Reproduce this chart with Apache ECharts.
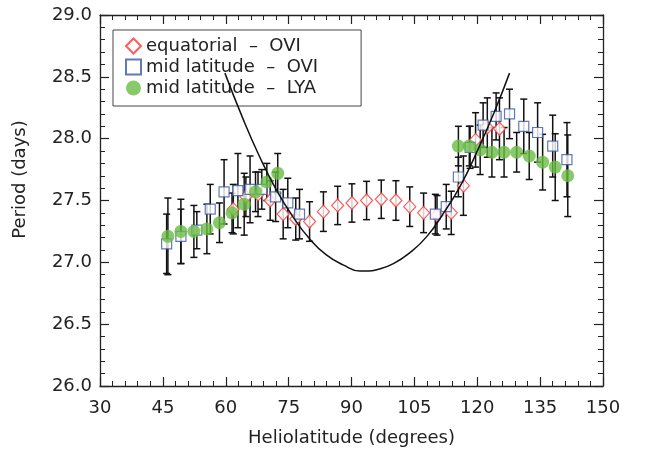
<!DOCTYPE html>
<html>
<head>
<meta charset="utf-8">
<script src="https://cdn.jsdelivr.net/npm/echarts@6/dist/echarts.min.js"></script>
<style>
  html, body { margin: 0; padding: 0; background: #fff; }
  #chart { width: 655px; height: 455px; }
</style>
</head>
<body>
<div id="chart"></div>
<script>
// equatorial - OVI (red diamonds)
const eqX = [61.8, 64.8, 67.7, 70.6, 73.7, 76.7, 80.0, 83.3, 86.7, 90.1, 93.6, 97.1, 100.6, 103.9, 107.2, 110.4, 113.8, 116.7, 119.6, 122.4, 125.3];
const eqY = [27.43, 27.53, 27.55, 27.50, 27.39, 27.35, 27.33, 27.41, 27.46, 27.48, 27.50, 27.51, 27.50, 27.45, 27.40, 27.38, 27.40, 27.62, 27.99, 28.09, 28.08];
const eqErr = [0.20, 0.16, 0.18, 0.16, 0.20, 0.17, 0.16, 0.16, 0.155, 0.155, 0.155, 0.155, 0.16, 0.16, 0.16, 0.16, 0.175, 0.24, 0.22, 0.24, 0.25];

// mid latitude - OVI (blue squares)
const oviX = [45.9, 49.3, 53.1, 56.3, 59.6, 62.9, 65.8, 68.6, 71.9, 74.8, 77.6, 110.0, 112.6, 115.5, 118.3, 121.4, 124.5, 127.7, 131.1, 134.4, 138.0, 141.4];
const oviY = [27.15, 27.21, 27.26, 27.43, 27.57, 27.58, 27.59, 27.59, 27.53, 27.48, 27.39, 27.39, 27.45, 27.69, 27.93, 28.11, 28.18, 28.20, 28.10, 28.05, 27.94, 27.83];
const oviErr = [0.24, 0.22, 0.15, 0.20, 0.26, 0.30, 0.27, 0.16, 0.20, 0.20, 0.20, 0.16, 0.18, 0.16, 0.17, 0.18, 0.19, 0.20, 0.22, 0.24, 0.25, 0.30];

// mid latitude - LYA (green dots)
const lyaX = [46.2, 49.3, 52.4, 55.5, 58.5, 61.5, 64.4, 67.1, 69.8, 72.4, 115.5, 118.1, 120.7, 123.5, 126.4, 129.4, 132.4, 135.6, 138.6, 141.6];
const lyaY = [27.21, 27.25, 27.25, 27.27, 27.32, 27.40, 27.47, 27.57, 27.65, 27.72, 27.94, 27.94, 27.91, 27.89, 27.89, 27.89, 27.86, 27.81, 27.77, 27.70];
const lyaErr = [0.31, 0.26, 0.21, 0.20, 0.16, 0.16, 0.25, 0.16, 0.15, 0.16, 0.16, 0.16, 0.20, 0.20, 0.20, 0.16, 0.19, 0.225, 0.27, 0.33];

// fitted curve
const fitX = [59.8, 64, 68, 72, 76, 80, 84, 88, 92, 94, 96, 100, 104, 108, 112, 116, 120, 124, 127.7];
const fitY = [28.53, 28.17, 27.86, 27.59, 27.37, 27.19, 27.06, 26.98, 26.93, 26.93, 26.94, 26.99, 27.08, 27.21, 27.40, 27.62, 27.90, 28.21, 28.53];

const xTicks = [30, 150, 15];
const yTicks = [26, 29, 0.5];

const names = ["equatorial  \u2013  OVI", "mid latitude  \u2013  OVI", "mid latitude  \u2013  LYA"];

const red = "#ff3333";
const blue = "#3b56a8";
const green = "#6abb45";
const font = "DejaVu Sans";

function pts(xs, ys) {
  return xs.map((x, i) => [x, ys[i]]);
}

// error bars from all three sets: [x, low, high]
const bars = [];
[[eqX, eqY, eqErr], [oviX, oviY, oviErr], [lyaX, lyaY, lyaErr]].forEach(set => {
  set[0].forEach((x, i) => {
    bars.push([x, set[1][i] - set[2][i], set[1][i] + set[2][i]]);
  });
});

function renderBar(params, api) {
  const top = api.coord([api.value(0), api.value(2)]);
  const bot = api.coord([api.value(0), api.value(1)]);
  const w = 3.5;
  const st = { stroke: "#111", lineWidth: 1.5 };
  return {
    type: "group",
    children: [
      { type: "line", shape: { x1: top[0], y1: top[1], x2: bot[0], y2: bot[1] }, style: st },
      { type: "line", shape: { x1: top[0] - w, y1: top[1], x2: top[0] + w, y2: top[1] }, style: st },
      { type: "line", shape: { x1: bot[0] - w, y1: bot[1], x2: bot[0] + w, y2: bot[1] }, style: st }
    ]
  };
}

const axisLine = { show: true, onZero: false, lineStyle: { color: "#222", width: 1.3 } };
const tick = { show: true, inside: true, length: 9, lineStyle: { color: "#222", width: 1.2 } };
const minor = { show: true, splitNumber: 5, length: 5, lineStyle: { color: "#222", width: 1 } };
const labelStyle = { fontFamily: font, fontSize: 18, color: "#222" };

const myChart = echarts.init(document.getElementById("chart"));
myChart.setOption({
  animation: false,
  backgroundColor: "#fff",
  grid: { left: 100, right: 52, top: 15, bottom: 69 },
  legend: {
    left: 113,
    top: 30,
    orient: "vertical",
    padding: [7, 43, 9, 12],
    itemGap: 3,
    itemWidth: 15,
    itemHeight: 15,
    itemTextGap: 7,
    borderColor: "#444",
    borderWidth: 1,
    selectedMode: false,
    textStyle: { fontFamily: font, fontSize: 18, color: "#222" },
    data: names
  },
  xAxis: [
    {
      type: "value",
      min: xTicks[0], max: xTicks[1], interval: xTicks[2],
      name: "Heliolatitude (degrees)",
      nameLocation: "middle",
      nameGap: 43,
      nameTextStyle: labelStyle,
      axisLine: axisLine,
      axisTick: tick,
      minorTick: minor,
      splitLine: { show: false },
      axisLabel: Object.assign({ margin: 13 }, labelStyle)
    },
    {
      type: "value",
      position: "top",
      min: xTicks[0], max: xTicks[1], interval: xTicks[2],
      axisLine: axisLine,
      axisTick: tick,
      minorTick: minor,
      splitLine: { show: false },
      axisLabel: { show: false }
    }
  ],
  yAxis: [
    {
      type: "value",
      min: yTicks[0], max: yTicks[1], interval: yTicks[2],
      name: "Period (days)",
      nameLocation: "middle",
      nameGap: 71,
      nameTextStyle: Object.assign({ padding: [0, 0, 0, 42] }, labelStyle),
      axisLine: axisLine,
      axisTick: tick,
      minorTick: minor,
      splitLine: { show: false },
      axisLabel: Object.assign({ margin: 8, formatter: v => v.toFixed(1) }, labelStyle)
    },
    {
      type: "value",
      position: "right",
      min: yTicks[0], max: yTicks[1], interval: yTicks[2],
      axisLine: axisLine,
      axisTick: tick,
      minorTick: minor,
      splitLine: { show: false },
      axisLabel: { show: false }
    }
  ],
  series: [
    {
      type: "custom",
      renderItem: renderBar,
      encode: { x: 0, y: [1, 2] },
      data: bars,
      z: 2
    },
    {
      name: names[0],
      type: "scatter",
      symbol: "diamond",
      symbolSize: [12, 13],
      itemStyle: { color: "#fff", borderColor: red, borderWidth: 1.2 },
      data: pts(eqX, eqY),
      z: 3
    },
    {
      name: names[1],
      type: "scatter",
      symbol: "rect",
      symbolSize: 10,
      itemStyle: { color: "#fff", borderColor: blue, borderWidth: 1.2 },
      data: pts(oviX, oviY),
      z: 4
    },
    {
      name: names[2],
      type: "scatter",
      symbol: "circle",
      symbolSize: 13,
      itemStyle: { color: green },
      data: pts(lyaX, lyaY),
      z: 5
    },
    {
      type: "line",
      smooth: true,
      showSymbol: false,
      lineStyle: { color: "#111", width: 1.5 },
      data: pts(fitX, fitY),
      z: 6
    }
  ]
});
</script>
</body>
</html>
